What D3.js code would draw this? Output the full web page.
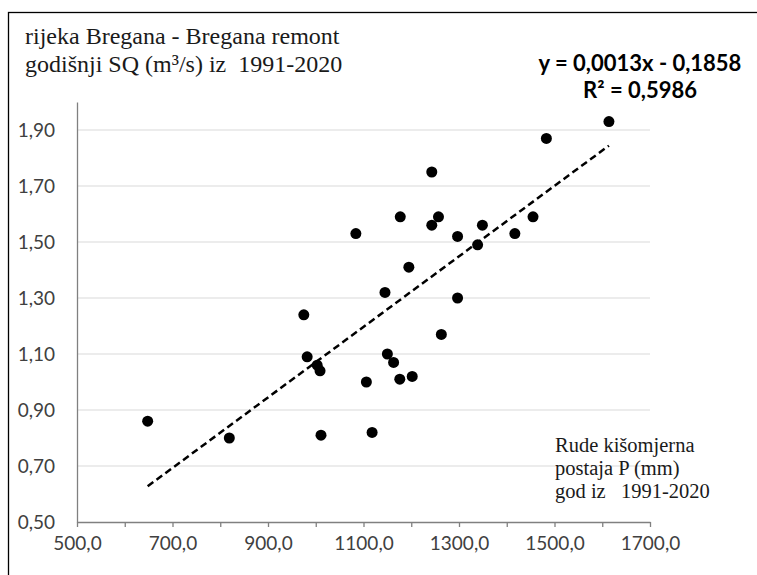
<!DOCTYPE html>
<html>
<head>
<meta charset="utf-8">
<script src="https://cdn.jsdelivr.net/npm/d3@7"></script>
<style>
  body { margin: 0; background: #fff; }
  .tick text { font-family: Lato, "Open Sans", sans-serif; font-size: 19px; fill: #404040; }
  .serif { font-family: "Liberation Serif", "Times New Roman", serif; fill: #1a1a1a; white-space: pre; }
</style>
</head>
<body>
<div id="chart"></div>
<script>
// annual precipitation P (mm), Rude station, 1991-2020
var precip = [648, 819, 975, 982, 1003, 1009, 1011, 1106, 1118, 1150, 1163, 1176, 1202,
  1084, 1145, 1177, 1195, 1614, 1483, 1243, 1257, 1243, 1349, 1297, 1455, 1417, 1339, 1297, 1263];
// annual mean discharge SQ (m3/s), Bregana remont
var flow = [0.86, 0.80, 1.24, 1.09, 1.06, 1.04, 0.81, 1.00, 0.82, 1.10, 1.07, 1.01, 1.02,
  1.53, 1.32, 1.59, 1.41, 1.93, 1.87, 1.75, 1.59, 1.56, 1.56, 1.52, 1.59, 1.53, 1.49, 1.30, 1.17];

var xTicks = [500, 600, 700, 800, 900, 1000, 1100, 1200, 1300, 1400, 1500, 1600, 1700];
var xLabels = [500, 700, 900, 1100, 1300, 1500, 1700];
var yTicks = [0.5, 0.7, 0.9, 1.1, 1.3, 1.5, 1.7, 1.9];
var titleLines = ["rijeka Bregana - Bregana remont", "godišnji SQ (m³/s) iz  1991-2020"];
var xTitleLines = ["Rude kišomjerna", "postaja P (mm)", "god iz   1991-2020"];
var eqLines = ["y = 0,0013x - 0,1858", "R² = 0,5986"];

var svgWidth = 757;
var svgHeight = 575;
var margin = { top: 102, right: 107, bottom: 53, left: 77 };
var width = svgWidth - margin.left - margin.right;
var height = svgHeight - margin.top - margin.bottom;

var data = precip.map(function(p, i) { return { p: p, q: flow[i] }; });

var svg = d3.select("#chart")
  .append("svg")
  .attr("width", svgWidth)
  .attr("height", svgHeight);

// outer frame (right and bottom edges fall outside the picture)
svg.append("rect")
  .attr("x", 8.5).attr("y", 12.5)
  .attr("width", 800).attr("height", 600)
  .attr("fill", "none").attr("stroke", "#000").attr("stroke-width", 1.3);

var chartGroup = svg.append("g")
  .attr("transform", `translate(${margin.left}, ${margin.top})`);

var xScale = d3.scaleLinear().domain([500, 1700]).range([0, width]);
var yScale = d3.scaleLinear().domain([0.5, 2.0]).range([height, 0]);

// gridlines
chartGroup.append("g")
  .selectAll("line")
  .data(yTicks.slice(1))
  .enter()
  .append("line")
  .attr("x1", 0).attr("x2", width)
  .attr("y1", d => yScale(d)).attr("y2", d => yScale(d))
  .attr("stroke", "#d9d9d9").attr("stroke-width", 1);

var fmt = d3.formatLocale({ decimal: ",", thousands: ".", grouping: [3], currency: ["", ""] });

var bottomAxis = d3.axisBottom(xScale)
  .tickValues(xTicks)
  .tickSize(5)
  .tickSizeOuter(0)
  .tickFormat(d => xLabels.indexOf(d) >= 0 ? fmt.format(".1f")(d) : "");

var leftAxis = d3.axisLeft(yScale)
  .tickValues(yTicks)
  .tickSize(0)
  .tickSizeOuter(0)
  .tickPadding(22)
  .tickFormat(fmt.format(".2f"));

var xg = chartGroup.append("g")
  .attr("transform", `translate(0, ${height})`)
  .call(bottomAxis);
xg.selectAll(".tick text").attr("dy", "1.05em");

var yg = chartGroup.append("g").call(leftAxis);

chartGroup.selectAll(".domain").attr("stroke", "#808080").attr("stroke-width", 1.3);
chartGroup.selectAll(".tick line").attr("stroke", "#808080").attr("stroke-width", 1.3);

// linear trend from least squares
var mx = d3.mean(data, d => d.p);
var my = d3.mean(data, d => d.q);
var slope = d3.sum(data, d => (d.p - mx) * (d.q - my)) / d3.sum(data, d => (d.p - mx) * (d.p - mx));
var intercept = my - slope * mx;
var xExt = d3.extent(data, d => d.p);

chartGroup.append("line")
  .attr("x1", xScale(xExt[0])).attr("y1", yScale(slope * xExt[0] + intercept))
  .attr("x2", xScale(xExt[1])).attr("y2", yScale(slope * xExt[1] + intercept))
  .attr("stroke", "#000")
  .attr("stroke-width", 2.5)
  .attr("stroke-dasharray", "7,4");

chartGroup.selectAll("circle")
  .data(data)
  .enter()
  .append("circle")
  .attr("cx", d => xScale(d.p))
  .attr("cy", d => yScale(d.q))
  .attr("r", 5.5)
  .attr("fill", "#000");

// titles
svg.append("text")
  .attr("class", "serif")
  .attr("x", 25).attr("y", 44)
  .style("font-size", "24px")
  .selectAll("tspan")
  .data(titleLines)
  .enter()
  .append("tspan")
  .attr("x", 25)
  .attr("dy", (d, i) => i === 0 ? 0 : 28)
  .text(d => d);

svg.append("text")
  .attr("class", "serif")
  .attr("x", 555).attr("y", 452)
  .style("font-size", "20.5px")
  .selectAll("tspan")
  .data(xTitleLines)
  .enter()
  .append("tspan")
  .attr("x", 555)
  .attr("dy", (d, i) => i === 0 ? 0 : 23)
  .text(d => d);

svg.append("text")
  .attr("x", 640).attr("y", 71)
  .attr("text-anchor", "middle")
  .style("font-family", "Lato, 'Open Sans', sans-serif")
  .style("font-weight", "bold")
  .style("font-size", "22px")
  .attr("fill", "#000")
  .selectAll("tspan")
  .data(eqLines)
  .enter()
  .append("tspan")
  .attr("x", 640)
  .attr("dy", (d, i) => i === 0 ? 0 : 27)
  .text(d => d);
</script>
</body>
</html>
